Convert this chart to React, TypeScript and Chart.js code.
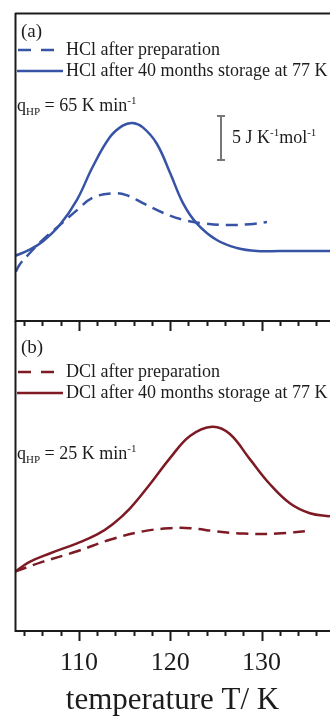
import React, { useEffect, useRef } from 'react';
import { Chart, registerables } from 'chart.js';

Chart.register(...registerables);

// ---------- data ----------
const X_MIN = 103;
const X_MAX = 137.5;
const TICK_VALUES = [104, 106, 108, 110, 112, 114, 116, 118, 120, 122, 124, 126, 128, 130, 132, 134, 136];
const MAJOR_TICKS = [110, 120, 130];

// Panel (a) HCl, heat capacity relative (J K^-1 mol^-1)
const HCL_PREP_T = [103.1, 103.5, 104.6, 106.0, 107.9, 109.8, 111.5, 113.7, 115.2, 117.0, 119.2, 121.4, 123.6, 126.2, 128.7, 130.6];
const HCL_PREP_CP = [5.6, 6.4, 7.7, 9.2, 10.9, 12.6, 14.0, 14.5, 14.3, 13.4, 12.3, 11.5, 11.1, 10.9, 11.0, 11.25];
const HCL_STORED_T = [103.0, 104.6, 106.0, 107.9, 109.8, 111.5, 113.4, 114.8, 115.9, 117.0, 118.5, 120.0, 121.4, 122.9, 125.1, 127.3, 129.5, 132.0, 135.0, 137.5];
const HCL_STORED_CP = [7.4, 8.1, 9.0, 10.9, 13.8, 17.5, 20.9, 22.2, 22.5, 22.0, 20.2, 16.8, 13.4, 11.1, 9.2, 8.3, 7.95, 7.95, 7.95, 7.95];

// Panel (b) DCl
const DCL_PREP_T = [103.0, 106.0, 109.8, 113.4, 117.0, 120.0, 122.2, 125.1, 128.0, 131.7, 135.5];
const DCL_PREP_CP = [6.7, 7.8, 9.0, 10.3, 11.25, 11.6, 11.6, 11.25, 11.0, 11.0, 11.35];
const DCL_STORED_T = [103.0, 104.6, 106.8, 109.8, 112.0, 113.7, 115.6, 117.8, 120.0, 122.2, 124.6, 126.5, 128.7, 130.9, 133.1, 135.3, 137.5];
const DCL_STORED_CP = [6.7, 7.8, 8.75, 9.9, 10.9, 12.05, 13.85, 16.6, 19.55, 22.05, 23.07, 22.27, 19.43, 16.6, 14.43, 13.3, 12.95];

const Y_MIN = 0;
const Y_MAX = 35;

// ---------- styles ----------
const BLUE = '#3653a5';
const RED = '#7d1a24';
const INK = '#1c1c1c';
const SERIF = '"Liberation Serif", "Times New Roman", serif';
const DASH = [12, 7];

type Part = { t: string; m?: 'sub' | 'sup' };

function drawRich(ctx: CanvasRenderingContext2D, x: number, baseline: number, parts: Part[], size: number) {
  let cx = x;
  ctx.textBaseline = 'alphabetic';
  ctx.textAlign = 'left';
  ctx.fillStyle = INK;
  for (const p of parts) {
    const s = p.m ? Math.round(size * 0.62) : size;
    const dy = p.m === 'sub' ? 4 : p.m === 'sup' ? -7 : 0;
    ctx.font = `${s}px ${SERIF}`;
    ctx.fillText(p.t, cx, baseline + dy);
    cx += ctx.measureText(p.t).width;
  }
}

type PanelCfg = {
  label: string;
  labelY: number;
  color: string;
  legend: string[];
  legendY: number[];
  rate: string;
  rateBaseline: number;
  topLine: boolean;
  scaleBar: boolean;
};

function makePlugin(cfg: PanelCfg) {
  return {
    id: 'panelDecor',
    afterDraw(chart: any) {
      const ctx: CanvasRenderingContext2D = chart.ctx;
      const area = chart.chartArea;
      const xs = chart.scales.x;
      ctx.save();
      // frame
      ctx.strokeStyle = INK;
      ctx.lineWidth = 2;
      ctx.setLineDash([]);
      ctx.beginPath();
      ctx.moveTo(area.left + 0.5, area.top);
      ctx.lineTo(area.left + 0.5, area.bottom + 1);
      if (cfg.topLine) {
        ctx.moveTo(area.left, area.top + 0.5);
        ctx.lineTo(area.right, area.top + 0.5);
      }
      ctx.moveTo(area.left, area.bottom);
      ctx.lineTo(area.right, area.bottom);
      ctx.stroke();
      // ticks
      ctx.beginPath();
      for (const t of TICK_VALUES) {
        const px = Math.round(xs.getPixelForValue(t)) + 0.5;
        const len = MAJOR_TICKS.includes(t) ? 10 : 5;
        ctx.moveTo(px, area.bottom);
        ctx.lineTo(px, area.bottom + len);
      }
      ctx.stroke();

      // panel label
      ctx.fillStyle = INK;
      ctx.font = `19px ${SERIF}`;
      ctx.textBaseline = 'middle';
      ctx.textAlign = 'left';
      ctx.fillText(cfg.label, 21, cfg.labelY);

      // legend
      ctx.strokeStyle = cfg.color;
      ctx.lineWidth = 2.5;
      ctx.setLineDash([13, 10]);
      ctx.beginPath();
      ctx.moveTo(18, cfg.legendY[0]);
      ctx.lineTo(54, cfg.legendY[0]);
      ctx.stroke();
      ctx.setLineDash([]);
      ctx.beginPath();
      ctx.moveTo(17, cfg.legendY[1]);
      ctx.lineTo(63, cfg.legendY[1]);
      ctx.stroke();
      ctx.fillStyle = INK;
      ctx.font = `18px ${SERIF}`;
      ctx.textBaseline = 'middle';
      ctx.fillText(cfg.legend[0], 66, cfg.legendY[0]);
      ctx.fillText(cfg.legend[1], 66, cfg.legendY[1]);

      // heating rate
      drawRich(ctx, 17, cfg.rateBaseline, [
        { t: 'q' },
        { t: 'HP', m: 'sub' },
        { t: ` = ${cfg.rate} K min` },
        { t: '-1', m: 'sup' },
      ], 18);

      if (cfg.scaleBar) {
        ctx.strokeStyle = '#777777';
        ctx.lineWidth = 2;
        ctx.beginPath();
        ctx.moveTo(221, 116);
        ctx.lineTo(221, 160);
        ctx.moveTo(217, 116);
        ctx.lineTo(225, 116);
        ctx.moveTo(217, 160);
        ctx.lineTo(225, 160);
        ctx.stroke();
        drawRich(ctx, 232, 143, [
          { t: '5 J K' },
          { t: '-1', m: 'sup' },
          { t: 'mol' },
          { t: '-1', m: 'sup' },
        ], 18);
      }
      ctx.restore();
    },
  };
}

function pts(xs: number[], ys: number[]) {
  return xs.map((x, i) => ({ x, y: ys[i] }));
}

function lineDataset(xs: number[], ys: number[], color: string, dashed: boolean) {
  return {
    data: pts(xs, ys),
    borderColor: color,
    borderWidth: 2.5,
    borderDash: dashed ? DASH : [],
    pointRadius: 0,
    fill: false,
    tension: 0.4,
  };
}

export default function App() {
  const refA = useRef<HTMLCanvasElement>(null);
  const refB = useRef<HTMLCanvasElement>(null);

  useEffect(() => {
    const chartA = new Chart(refA.current!, {
      type: 'line',
      data: {
        datasets: [
          lineDataset(HCL_PREP_T, HCL_PREP_CP, BLUE, true),
          lineDataset(HCL_STORED_T, HCL_STORED_CP, BLUE, false),
        ],
      },
      options: {
        responsive: false,
        animation: false,
        devicePixelRatio: 1,
        layout: { padding: { left: 15, right: 0, top: 13, bottom: 15 } },
        plugins: { legend: { display: false }, tooltip: { enabled: false } },
        scales: {
          x: { type: 'linear', min: X_MIN, max: X_MAX, display: false },
          y: { min: Y_MIN, max: Y_MAX, display: false },
        },
      },
      plugins: [
        makePlugin({
          label: '(a)',
          labelY: 32,
          color: BLUE,
          legend: ['HCl after preparation', 'HCl after 40 months storage at 77 K'],
          legendY: [50, 71],
          rate: '65',
          rateBaseline: 111,
          topLine: true,
          scaleBar: true,
        }),
      ],
    });

    const chartB = new Chart(refB.current!, {
      type: 'line',
      data: {
        datasets: [
          lineDataset(DCL_PREP_T, DCL_PREP_CP, RED, true),
          lineDataset(DCL_STORED_T, DCL_STORED_CP, RED, false),
        ],
      },
      options: {
        responsive: false,
        animation: false,
        devicePixelRatio: 1,
        layout: { padding: { left: 15, right: 0, top: 0, bottom: 0 } },
        plugins: { legend: { display: false }, tooltip: { enabled: false } },
        scales: {
          x: {
            type: 'linear',
            min: X_MIN,
            max: X_MAX,
            afterBuildTicks: (scale: any) => {
              scale.ticks = TICK_VALUES.map((v) => ({ value: v }));
            },
            border: { display: false },
            grid: { drawOnChartArea: false, drawTicks: true, tickLength: 10, tickColor: 'transparent' },
            ticks: {
              autoSkip: false,
              maxRotation: 0,
              padding: 9,
              color: INK,
              font: { family: SERIF, size: 26, lineHeight: 1 },
              callback: (v: any) => (MAJOR_TICKS.includes(Number(v)) ? String(v) : ''),
            },
            title: {
              display: true,
              text: 'temperature T/ K',
              color: INK,
              font: { family: SERIF, size: 31, lineHeight: 1 },
              padding: { top: 0, bottom: 0 },
            },
          },
          y: { min: Y_MIN, max: Y_MAX, display: false },
        },
      },
      plugins: [
        makePlugin({
          label: '(b)',
          labelY: 27,
          color: RED,
          legend: ['DCl after preparation', 'DCl after 40 months storage at 77 K'],
          legendY: [51, 72],
          rate: '25',
          rateBaseline: 138,
          topLine: false,
          scaleBar: false,
        }),
      ],
    });

    return () => {
      chartA.destroy();
      chartB.destroy();
    };
  }, []);

  return (
    <div style={{ position: 'fixed', left: 0, top: 0, width: 330, height: 716, background: '#ffffff', overflow: 'hidden' }}>
      <canvas ref={refA} width={330} height={336} style={{ position: 'absolute', left: 0, top: 0 }} />
      <canvas ref={refB} width={330} height={395} style={{ position: 'absolute', left: 0, top: 321 }} />
    </div>
  );
}
